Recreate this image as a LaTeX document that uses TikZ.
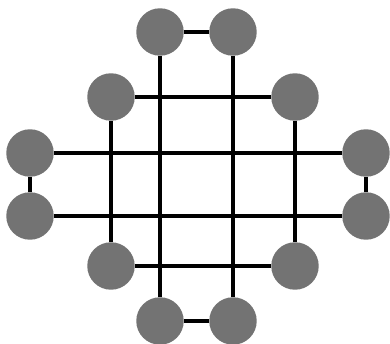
\documentclass[tikz,border=0pt]{standalone}
\usepackage{tikz}
\tikzset{site/.style={circle,fill=black!55,inner sep=0pt,minimum size=0.95cm},
  bond/.style={line width=2.8pt}}
\begin{document}
\begin{tikzpicture}[x=0.02cm,y=-0.02cm]
\useasboundingbox (0,0) rectangle (390,344);
\node[site] (t1) at (160,32) {};
\node[site] (t2) at (233,32) {};
\node[site] (m1) at (111,97) {};
\node[site] (m2) at (295,97) {};
\node[site] (l1) at (30,153) {};
\node[site] (r1) at (366,153) {};
\node[site] (l2) at (30,216) {};
\node[site] (r2) at (366,216) {};
\node[site] (n1) at (111,266) {};
\node[site] (n2) at (295,266) {};
\node[site] (b1) at (160,321) {};
\node[site] (b2) at (233,321) {};
\draw[bond] (t1)--(t2);
\draw[bond] (b1)--(b2);
\draw[bond] (t1)--(b1);
\draw[bond] (t2)--(b2);
\draw[bond] (m1)--(m2);
\draw[bond] (n1)--(n2);
\draw[bond] (m1)--(n1);
\draw[bond] (m2)--(n2);
\draw[bond] (l1)--(r1);
\draw[bond] (l2)--(r2);
\draw[bond] (l1)--(l2);
\draw[bond] (r1)--(r2);
\end{tikzpicture}
\end{document}
